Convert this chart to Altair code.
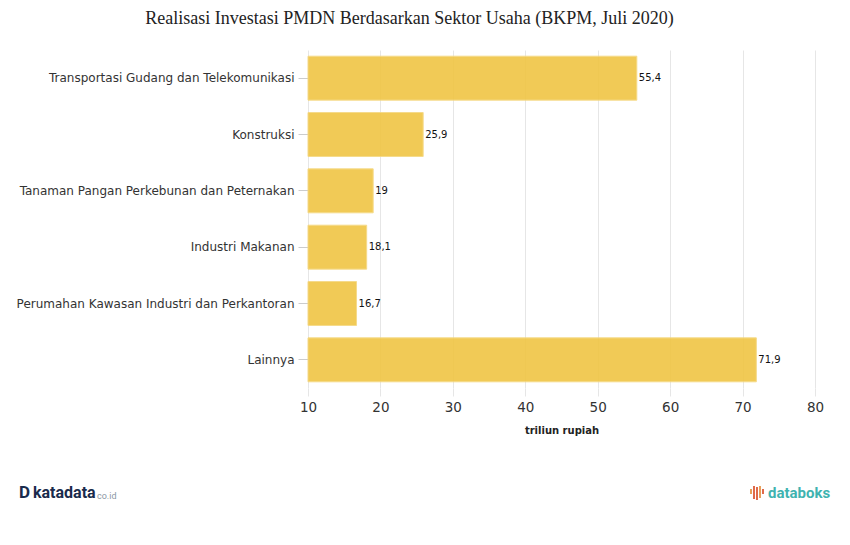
import altair as alt
import pandas as pd

categories = [
    "Transportasi Gudang dan Telekomunikasi",
    "Konstruksi ",
    "Tanaman Pangan Perkebunan dan Peternakan",
    "Industri Makanan",
    "Perumahan Kawasan Industri dan Perkantoran",
    "Lainnya",
]
values = [55.4, 25.9, 19, 18.1, 16.7, 71.9]
x_ticks = [10, 20, 30, 40, 50, 60, 70, 80]

df = pd.DataFrame({"sektor": categories, "nilai": values})

FONT = "DejaVu Sans"
W, H = 507, 338
LEFT, TOP = 308, 50

base = alt.Chart(df)

y_enc = alt.Y(
    "sektor:N",
    sort=categories,
    title=None,
    scale=alt.Scale(paddingInner=0.22, paddingOuter=0.11),
    axis=alt.Axis(
        labelFont=FONT, labelFontSize=12, labelColor="#333333",
        tickColor="#cccccc", tickSize=10, domain=False, labelPadding=4,
        labelLimit=400, grid=False,
    ),
)

bars = base.mark_bar(color="#F0C544", opacity=0.9, stroke="#F5D77E", strokeWidth=1).encode(
    x=alt.X(
        "nilai:Q",
        scale=alt.Scale(domain=[10, 80], nice=False, zero=False),
        title="triliun rupiah",
        axis=alt.Axis(
            values=x_ticks, labelFont=FONT, labelFontSize=13.5, labelColor="#333333",
            labelPadding=4, labelFlush=False, grid=True, gridColor="#e6e6e6", domain=False,
            tickColor="#e6e6e6", tickSize=8, titleFont=FONT, titleFontSize=10,
            titleFontWeight="bold", titleColor="#222222", titlePadding=12,
        ),
    ),
    x2=alt.datum(10),
    y=y_enc,
)

labels = base.transform_calculate(
    lbl="replace(toString(datum.nilai), '.', ',')"
).mark_text(align="left", baseline="middle", dx=2, font=FONT, fontSize=10, color="#111111").encode(
    x="nilai:Q",
    y=alt.Y("sektor:N", sort=categories),
    text="lbl:N",
)

logo_df = pd.DataFrame({"t": ["x"]})
kata_d = alt.Chart(logo_df).mark_text(
    align="left", baseline="middle", font="Roboto", fontSize=17, fontWeight="bold", color="#1a2b4c"
).encode(x=alt.value(19 - LEFT), y=alt.value(493 - TOP), text=alt.value("D"))
kata = alt.Chart(logo_df).mark_text(
    align="left", baseline="middle", font="Roboto", fontSize=16, fontWeight="bold", color="#1a2b4c"
).encode(x=alt.value(33 - LEFT), y=alt.value(493 - TOP), text=alt.value("katadata"))
coid = alt.Chart(logo_df).mark_text(
    align="left", baseline="middle", font="Roboto", fontSize=9, color="#8a96a3"
).encode(x=alt.value(97 - LEFT), y=alt.value(496 - TOP), text=alt.value("co.id"))

icon_df = pd.DataFrame({
    "x": [751, 754, 757, 760, 763],
    "y1": [489, 486, 487, 486, 489],
    "y2": [494, 499, 500, 498, 494],
    "c": ["#e8a05a", "#e06a4a", "#e06a4a", "#e8a05a", "#e06a4a"],
})
icon = alt.Chart(icon_df).mark_rule(strokeWidth=2).encode(
    x=alt.X("x:Q", scale=alt.Scale(domain=[LEFT, LEFT + W]), axis=None),
    y=alt.Y("y1:Q", scale=alt.Scale(domain=[TOP + H, TOP]), axis=None),
    y2="y2:Q",
    color=alt.Color("c:N", scale=None),
)
databoks = alt.Chart(logo_df).mark_text(
    align="left", baseline="middle", font="Roboto", fontSize=15, fontWeight="bold", color="#3fb3b0"
).encode(x=alt.value(768 - LEFT), y=alt.value(493 - TOP), text=alt.value("databoks"))

main = alt.layer(bars, labels)

chart = alt.layer(main, icon, kata_d, kata, coid, databoks).resolve_scale(
    x="independent", y="independent"
).properties(
    width=W,
    height=H,
    background="white",
    padding={"left": LEFT, "top": TOP, "right": 850 - LEFT - W, "bottom": 545 - TOP - H},
    autosize=alt.AutoSizeParams(type="none"),
    title=alt.TitleParams(
        "Realisasi Investasi PMDN Berdasarkan Sektor Usaha (BKPM, Juli 2020)",
        font="Liberation Serif", fontSize=18, fontWeight="normal", color="#222222",
        anchor="middle", dx=-152, offset=22,
    ),
).configure_view(strokeWidth=0, stroke="transparent")

chart.save("out.html", embed_options={"renderer": "svg", "actions": False})
